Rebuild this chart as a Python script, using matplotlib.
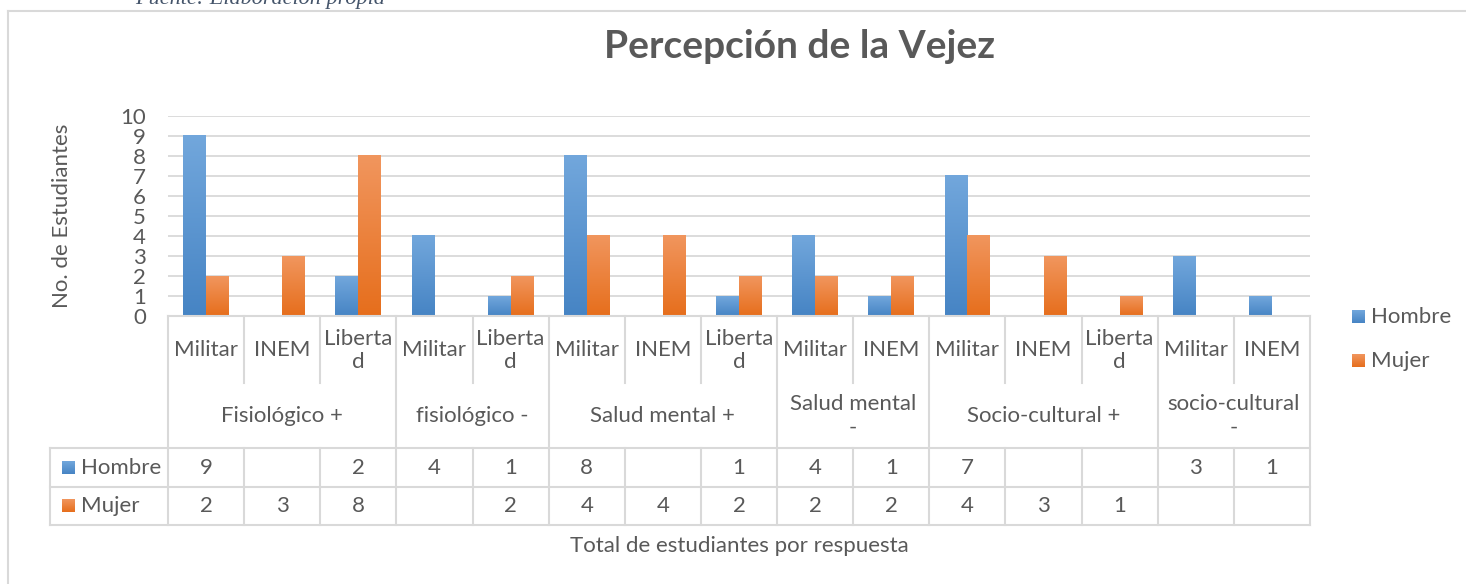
import numpy as np
import matplotlib
matplotlib.use("Agg")
import matplotlib.pyplot as plt
from matplotlib.transforms import blended_transform_factory
from matplotlib.colors import LinearSegmentedColormap

# ---------------- data ----------------
title = "Percepción de la Vejez"
subcats = ["Militar", "INEM", "Liberta\nd", "Militar", "Liberta\nd",
           "Militar", "INEM", "Liberta\nd", "Militar", "INEM",
           "Militar", "INEM", "Liberta\nd", "Militar", "INEM"]
groups = ["Fisiológico +", "fisiológico -", "Salud mental +", "Salud mental\n-",
          "Socio-cultural +", "socio-cultural\n-"]
group_sizes = [3, 2, 3, 2, 3, 2]
series_names = ["Hombre", "Mujer"]
hombre = [9, None, 2, 4, 1, 8, None, 1, 4, 1, 7, None, None, 3, 1]
mujer = [2, 3, 8, None, 2, 4, 4, 2, 2, 2, 4, 3, 1, None, None]
yticks = list(range(0, 11))
ylabel = "No. de Estudiantes"
xlabel = "Total de estudiantes por respuesta"
caption = "Fuente: Elaboración propia"

# ---------------- style ----------------
W, H = 1466, 584
DPI = 100
FONT = "Lato"
TXT = "#595959"
GRID = "#D9D9D9"
blue_top, blue_bot = "#72A7DC", "#4684C4"
orange_top, orange_bot = "#F1965E", "#E66E1C"

plt.rcParams["font.family"] = [FONT, "DejaVu Sans"]

fig = plt.figure(figsize=(W / DPI, H / DPI), dpi=DPI)
fig.patch.set_facecolor("white")

def fx(px):
    return px / W

def fy(py):
    return 1 - py / H

# chart border
fig.add_artist(plt.Line2D([fx(8), fx(8)], [fy(11), fy(H + 5)], color=GRID, lw=1.5))
fig.add_artist(plt.Line2D([fx(8), fx(W + 5)], [fy(11), fy(11)], color=GRID, lw=1.5))
# caption above chart (cut off by the page edge, as in the source image)
fig.text(fx(385), fy(4), caption, ha="right", va="baseline", fontsize=16,
         style="italic", color="#44546A", family="Liberation Serif")

L, R, T, B = 168, 1310, 116, 316
ax = fig.add_axes([fx(L), fy(B), fx(R) - fx(L), fy(T) - fy(B)])
n = len(subcats)
for s in ax.spines.values():
    s.set_visible(False)
ax.set_xticks([])
ax.set_yticks(yticks)
ax.tick_params(axis="y", length=0, labelsize=16, labelcolor=TXT, pad=16)
for y in yticks:
    ax.axhline(y, color=GRID, lw=1.3, zorder=0)
ax.set_ylabel(ylabel, fontsize=16, color=TXT)
ax.yaxis.set_label_coords(-0.084, 0.5)

bw = 0.30
def grad_cmap(top, bot):
    return LinearSegmentedColormap.from_list("g", [bot, top])

cm_b = grad_cmap(blue_top, blue_bot)
cm_o = grad_cmap(orange_top, orange_bot)
grad = np.linspace(0, 1, 256).reshape(-1, 1)
for i in range(n):
    for vals, off, cm in ((hombre, -bw / 2, cm_b), (mujer, bw / 2, cm_o)):
        v = vals[i]
        if v is None:
            continue
        x0 = i + off - bw / 2
        ax.imshow(grad, extent=[x0, x0 + bw, 0, v], origin="lower", cmap=cm,
                  aspect="auto", zorder=3, interpolation="bilinear")
ax.set_xlim(-0.5, n - 0.5)
ax.set_ylim(0, 10)

# ---------------- data table ----------------
tr = blended_transform_factory(ax.transData, fig.transFigure)
fs = 16

def hline(x0, x1, py):
    fig.add_artist(plt.Line2D([x0, x1], [fy(py), fy(py)], color=GRID, lw=1.5,
                              transform=tr, clip_on=False))

def vline(xd, py0, py1):
    fig.add_artist(plt.Line2D([xd, xd], [fy(py0), fy(py1)], color=GRID, lw=1.5,
                              transform=tr, clip_on=False))

r0, r1, r2, r3, r4 = 316, 383, 448, 487, 525
hline(-0.5, n - 0.5, r0)
left_data = -0.5 - (L - 50) / ((R - L) / n)
hline(left_data, n - 0.5, r2)
hline(left_data, n - 0.5, r3)
hline(left_data, n - 0.5, r4)
vline(left_data, r2, r4)

bounds = np.cumsum([0] + group_sizes)
for k in range(n + 1):
    xd = k - 0.5
    if k in bounds:
        vline(xd, r0, r4)
    else:
        vline(xd, r0, r1)
        vline(xd, r2, r4)

for i, s in enumerate(subcats):
    fig.text(i, fy((r0 + r1) / 2 + 1), s, ha="center", va="center", fontsize=fs,
             color=TXT, transform=tr, linespacing=1.15)
for g, (a, b) in zip(groups, zip(bounds[:-1], bounds[1:])):
    cx = (a + b - 1) / 2
    fig.text(cx, fy((r1 + r2) / 2), g, ha="center", va="center", fontsize=fs,
             color=TXT, transform=tr, linespacing=1.25)

for vals, py in ((hombre, (r2 + r3) / 2), (mujer, (r3 + r4) / 2)):
    for i, v in enumerate(vals):
        if v is None:
            continue
        fig.text(i, fy(py), str(v), ha="center", va="center", fontsize=fs,
                 color=TXT, transform=tr)

def key(px, py, cm):
    kax = fig.add_axes([fx(px), fy(py + 13), fx(13), 13 / H])
    kax.imshow(grad, cmap=cm, aspect="auto", origin="lower", extent=[0, 1, 0, 1])
    kax.set_axis_off()

for name, cm, py in (("Hombre", cm_b, (r2 + r3) / 2), ("Mujer", cm_o, (r3 + r4) / 2)):
    key(62, py - 7, cm)
    fig.text(fx(81), fy(py), name, ha="left", va="center", fontsize=fs, color=TXT)

for name, cm, py in (("Hombre", cm_b, 317), ("Mujer", cm_o, 361)):
    key(1352, py - 7, cm)
    fig.text(fx(1371), fy(py), name, ha="left", va="center", fontsize=fs, color=TXT)

fig.text(fx(800), fy(46), title, ha="center", va="center", fontsize=28,
         fontweight="bold", color=TXT)
fig.text((n - 1) / 2, fy(546), xlabel, ha="center", va="center", fontsize=fs,
         color=TXT, transform=tr)

fig.savefig("out.png", dpi=DPI, facecolor="white")
